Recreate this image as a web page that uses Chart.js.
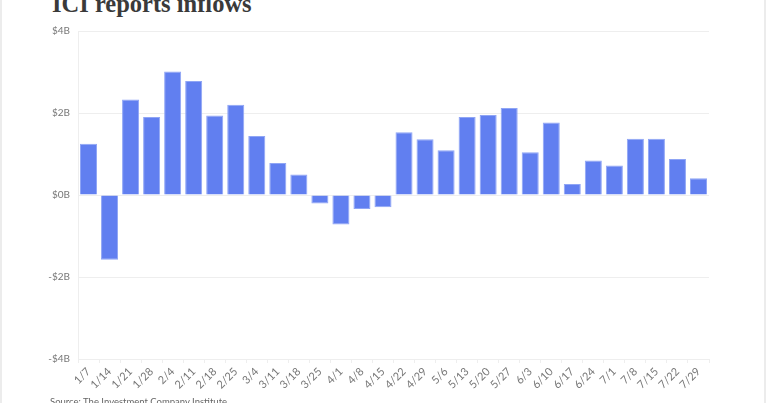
<!DOCTYPE html>
<html>
<head>
<meta charset="utf-8">
<script src="https://cdn.jsdelivr.net/npm/chart.js@4.4.0/dist/chart.umd.min.js"></script>
<style>
  html, body { margin:0; padding:0; background:#fff; }
  body { width:768px; height:403px; position:relative; overflow:hidden; }
  #frame { position:absolute; left:0; top:-10px; width:766px; height:430px; border-left:2px solid #ececec; border-right:2px solid #ececec; box-sizing:border-box; }
  #title { position:absolute; left:52px; top:-11px; font-family:"Liberation Serif", serif; font-weight:bold; font-size:24.5px; line-height:30px; color:#3a3a3a; white-space:nowrap; }
  #source { position:absolute; left:50px; top:396px; font-family:Lato, "Open Sans", sans-serif; font-size:9.5px; color:#666; white-space:nowrap; }
  #wrap { position:absolute; left:0; top:0; width:768px; height:403px; }
</style>
</head>
<body>
<div id="frame"></div>
<div id="title">ICI reports inflows</div>
<div id="wrap"><canvas id="c"></canvas></div>
<div id="source">Source: The Investment Company Institute</div>
<script>
const categories = ["1/7","1/14","1/21","1/28","2/4","2/11","2/18","2/25","3/4","3/11","3/18","3/25","4/1","4/8","4/15","4/22","4/29","5/6","5/13","5/20","5/27","6/3","6/10","6/17","6/24","7/1","7/8","7/15","7/22","7/29"];
const inflows = [1.25,-1.58,2.33,1.90,3.01,2.78,1.94,2.20,1.44,0.78,0.50,-0.21,-0.72,-0.34,-0.30,1.53,1.36,1.09,1.90,1.95,2.12,1.04,1.77,0.27,0.84,0.72,1.37,1.37,0.88,0.41];
const yTicks = [-4,-2,0,2,4];

function fmt(v){ return (v < 0 ? '-$' : '$') + Math.abs(v) + 'B'; }

new Chart(document.getElementById('c'), {
  type: 'bar',
  data: {
    labels: categories,
    datasets: [{
      data: inflows,
      backgroundColor: '#617ff0',
      borderColor: '#8fa5f5',
      borderWidth: 1,
      barPercentage: 1,
      categoryPercentage: 0.81
    }]
  },
  options: {
    responsive: true,
    maintainAspectRatio: false,
    animation: false,
    layout: { padding: { left: 0, right: 59, top: 31, bottom: 0 } },
    plugins: { legend: { display: false }, tooltip: { enabled: false } },
    scales: {
      x: {
        grid: { display: true, drawOnChartArea: false, color: '#eeeeee', tickLength: 4 },
        border: { display: true, color: '#eeeeee' },
        ticks: { autoSkip: false, minRotation: 45, maxRotation: 45, padding: 2, color: '#777', font: { family: 'Lato', size: 11 } },
        afterFit: s => { s.height = 44; }
      },
      y: {
        min: -4, max: 4,
        afterBuildTicks: s => { s.ticks = yTicks.map(v => ({ value: v })); },
        grid: { color: '#eeeeee', drawTicks: false },
        border: { display: true, color: '#eeeeee' },
        ticks: { padding: 8, color: '#777', font: { family: 'Lato', size: 10 }, callback: v => fmt(v) },
        afterFit: s => { s.width = 78; }
      }
    }
  }
});
</script>
</body>
</html>
